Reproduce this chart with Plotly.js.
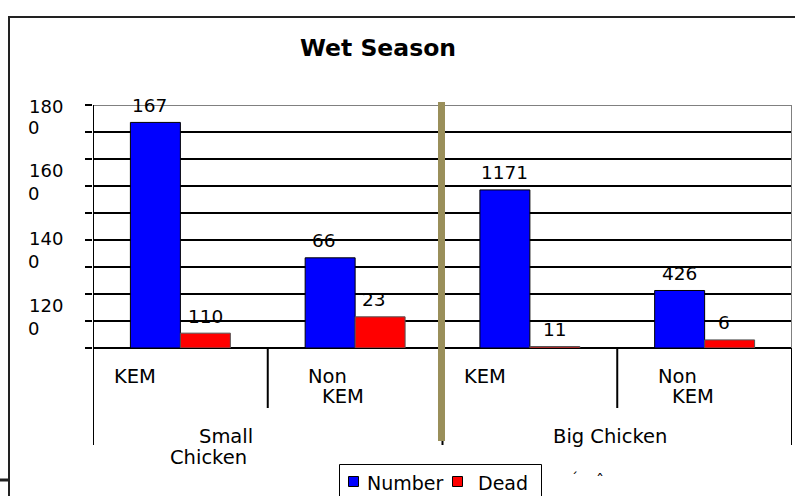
<!DOCTYPE html>
<html>
<head>
<meta charset="utf-8">
<script src="https://cdn.plot.ly/plotly-3.0.1.min.js"></script>
<style>html,body{margin:0;padding:0;background:#fff;}#chart{width:795px;height:496px;}</style>
</head>
<body>
<div id="chart"></div>
<script>
// ---------- data ----------
const categories = ['Small KEM', 'Small Non KEM', 'Big KEM', 'Big Non KEM'];
const numberValues = [1671, 668, 1171, 426];
const deadValues = [110, 231, 11, 60];
const numberLabels = ['167', '66', '1171', '426'];   // labels as printed (clipped)
const deadLabels = ['110', '23', '11', '6'];
const subLabels = [['KEM'], ['Non', 'KEM'], ['KEM'], ['Non', 'KEM']];
const groupLabels = [['Small', 'Chicken'], ['Big Chicken']];
const yTickVals = [0, 200, 400, 600, 800, 1000, 1200, 1400, 1600, 1800];
const yTickLabels = [['180', '0'], ['160', '0'], ['140', '0'], ['120', '0']];
const seriesNames = ['Number', 'Dead'];
const seriesColors = ['#0000FF', '#FF0000'];

// ---------- styling / layout ----------
const FONT = 'DejaVu Sans';
const M = {l: 93, r: 3, t: 105, b: 148};
const W = 795, H = 496;
const plotTop = M.t, plotBottom = H - M.b, plotH = plotBottom - plotTop;
const py = Y => (plotBottom - Y) / plotH;          // pixel row -> paper y
const pxp = X => (X - M.l) / (W - M.l - M.r);       // pixel col -> paper x
const xs = categories.map((c, i) => i);

const traces = [
  {type: 'bar', name: seriesNames[0], x: xs, y: numberValues,
   marker: {color: seriesColors[0], line: {color: '#000', width: 1}}, hoverinfo: 'skip'},
  {type: 'bar', name: seriesNames[1], x: xs, y: deadValues,
   marker: {color: seriesColors[1], line: {color: '#555', width: 1}}, hoverinfo: 'skip'}
];

const annotations = [];
const charW = 0.636 * 18.5;
function valueLabels(vals, labels, off) {
  vals.forEach((v, i) => {
    const full = String(v).length, shown = labels[i].length;
    annotations.push({x: xs[i], y: v, xref: 'x', yref: 'y', text: labels[i], showarrow: false,
      xanchor: 'center', yanchor: 'middle', xshift: off + (shown - full) * charW / 2, yshift: 17,
      font: {family: FONT, size: 18.5, color: '#000'}});
  });
}
valueLabels(numberValues, numberLabels, -25);
valueLabels(deadValues, deadLabels, 25);

function txt(x, xref, Y, text, size, xshift) {
  annotations.push({x: x, xref: xref, y: py(Y), yref: 'paper', text: text, showarrow: false,
    xanchor: 'left', yanchor: 'middle', xshift: xshift || 0, borderpad: 0,
    font: {family: FONT, size: size, color: '#000'}});
}
// category labels
subLabels.forEach((lines, i) => {
  if (lines.length === 1) txt(xs[i], 'x', 376, lines[0], 19.5, -67);
  else { txt(xs[i], 'x', 376, lines[0], 19.5, -48); txt(xs[i], 'x', 396, lines[1], 19.5, -34); }
});
// group labels
txt(0.5, 'x', 436, groupLabels[0][0], 19.5, -70);
txt(0.5, 'x', 457, groupLabels[0][1], 19.5, -99);
txt(2.5, 'x', 436, groupLabels[1][0], 19.5, -65);
// misplaced y tick labels
const yLabRows = [[107, 127], [170, 193], [238, 261], [305, 328]];
yTickLabels.forEach((pair, i) => {
  txt(pxp(28), 'paper', yLabRows[i][0], pair[0], 18, 0);
  txt(pxp(27), 'paper', yLabRows[i][1], pair[1], 18, 0);
});
// clipped stray marks at bottom
txt(pxp(570), 'paper', 478, '\u00B4', 14, 0);
txt(pxp(595), 'paper', 480, '\u02C6', 16, 0);

const line = (x0, y0, x1, y1, color, width, xref, yref) => ({type: 'line', layer: 'above',
  xref: xref, yref: yref, x0: x0, y0: y0, x1: x1, y1: y1, line: {color: color, width: width}});
const rect = (X0, Y0, X1, Y1, fill, color, width) => ({type: 'rect', layer: 'above',
  xref: 'paper', yref: 'paper', x0: pxp(X0), y0: py(Y0), x1: pxp(X1), y1: py(Y1),
  fillcolor: fill, line: {color: color, width: width}});
const shapes = [
  // plot border (gray) at top and right
  line(-0.5, 1800, 3.5, 1800, '#808080', 2, 'x', 'y'),
  line(3.5, 1800, 3.5, 0, '#808080', 2, 'x', 'y'),
  // category axis separators
  line(-0.5, 1, -0.5, py(445), '#000', 2, 'x', 'paper'),
  line(0.5, 0, 0.5, py(408), '#000', 2, 'x', 'paper'),
  line(1.5, 0, 1.5, py(445), '#000', 2, 'x', 'paper'),
  line(2.5, 0, 2.5, py(408), '#000', 2, 'x', 'paper'),
  line(3.5, 0, 3.5, py(445), '#000', 2, 'x', 'paper'),
  // olive divider between Small / Big
  line(1.5 - 1 / 174.75, py(102), 1.5 - 1 / 174.75, py(441), '#9A8F5A', 7, 'x', 'paper'),
  // outer chart frame
  line(pxp(8), py(17), pxp(795), py(17), '#222', 2, 'paper', 'paper'),
  line(pxp(9), py(17), pxp(9), py(497), '#222', 2, 'paper', 'paper'),
  line(pxp(0), py(480), pxp(9), py(480), '#222', 3, 'paper', 'paper'),
  // legend box and keys
  rect(339.5, 464.5, 541.5, 500, '#fff', '#000', 1),
  rect(348.5, 476.5, 358.5, 486.5, seriesColors[0], '#000', 1),
  rect(452.5, 476.5, 462.5, 486.5, seriesColors[1], '#000', 1)
];
// legend text
txt(pxp(366), 'paper', 483, seriesNames[0], 19, 0);
txt(pxp(477), 'paper', 483, seriesNames[1], 19, 0);

const layout = {
  width: W, height: H,
  margin: {l: M.l, r: M.r, t: M.t, b: M.b, autoexpand: false},
  paper_bgcolor: '#fff', plot_bgcolor: '#fff',
  title: {text: '<b>Wet Season</b>', x: 378 / W, xref: 'container', xanchor: 'center',
          y: 1 - 48 / H, yref: 'container', yanchor: 'middle',
          font: {family: FONT, size: 23.5, color: '#000'}},
  barmode: 'group', bargap: 0.428, bargroupgap: 0,
  xaxis: {range: [-0.5, 3.5], showgrid: false, zeroline: false, showticklabels: false,
          ticks: '', showline: false, fixedrange: true},
  yaxis: {range: [0, 1800], tickvals: yTickVals, showticklabels: false,
          ticks: 'outside', ticklen: 7, tickwidth: 2, tickcolor: '#000',
          showgrid: true, gridcolor: '#000', gridwidth: 2,
          zeroline: true, zerolinecolor: '#000', zerolinewidth: 2,
          showline: false, fixedrange: true},
  showlegend: false,
  annotations: annotations,
  shapes: shapes
};

Plotly.newPlot('chart', traces, layout, {staticPlot: true, displayModeBar: false});
</script>
</body>
</html>
